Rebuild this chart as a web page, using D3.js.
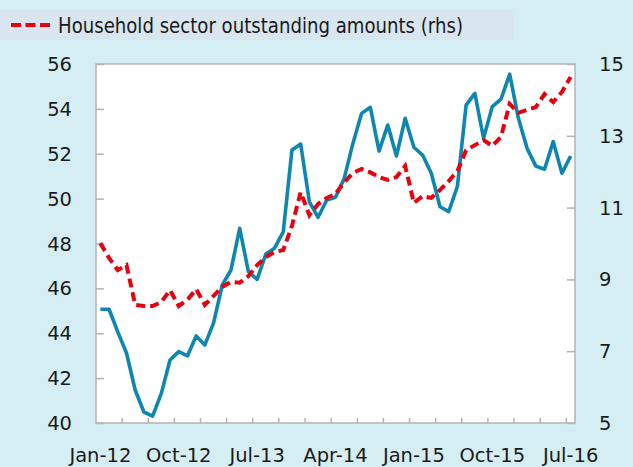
<!DOCTYPE html>
<html>
<head>
<meta charset="utf-8">
<script src="https://cdn.jsdelivr.net/npm/d3@7/dist/d3.min.js"></script>
<style>
  html, body { margin: 0; padding: 0; background: #d5eef3; }
  svg { display: block; }
  text { font-family: "DejaVu Sans", "Noto Sans", sans-serif; fill: #1a1a1a; }
</style>
</head>
<body>
<svg id="chart" width="633" height="467"></svg>
<script>
// Monthly observations, Jan-12 .. Jul-16
const months = (() => {
  const names = ["Jan","Feb","Mar","Apr","May","Jun","Jul","Aug","Sep","Oct","Nov","Dec"];
  const out = [];
  for (let y = 2012; y <= 2016; y++) {
    for (let m = 0; m < 12; m++) {
      if (y === 2016 && m > 6) break;
      out.push(names[m] + "-" + String(y).slice(2));
    }
  }
  return out;
})();

// Left-hand series (lhs)
const leftSeries = [
  45.07, 45.07, 44.06, 43.12, 41.47, 40.49, 40.31, 41.32, 42.81, 43.18, 42.99, 43.88,
  43.48, 44.46, 46.15, 46.82, 48.68, 46.74, 46.40, 47.53, 47.79, 48.52, 52.17, 52.43,
  49.86, 49.17, 49.94, 50.06, 50.90, 52.46, 53.80, 54.07, 52.12, 53.28, 51.90, 53.58,
  52.29, 51.94, 51.13, 49.64, 49.42, 50.55, 54.17, 54.69, 52.69, 54.10, 54.43, 55.55,
  53.58, 52.24, 51.45, 51.31, 52.54, 51.13, 51.90
];

// Household sector outstanding amounts (rhs)
const householdSeries = [
  10.01, 9.60, 9.26, 9.40, 8.29, 8.26, 8.26, 8.37, 8.70, 8.26, 8.43, 8.73,
  8.29, 8.54, 8.79, 8.93, 8.91, 9.09, 9.40, 9.62, 9.76, 9.82, 10.49, 11.43,
  10.79, 11.10, 11.27, 11.38, 11.71, 11.96, 12.08, 11.98, 11.85, 11.77, 11.85, 12.16,
  11.13, 11.32, 11.27, 11.49, 11.74, 12.02, 12.60, 12.74, 12.88, 12.72, 12.97, 13.89,
  13.64, 13.72, 13.80, 14.16, 13.94, 14.22, 14.64
];

const leftTicks = [40, 42, 44, 46, 48, 50, 52, 54, 56];
const rightTicks = [5, 7, 9, 11, 13, 15];
const xLabels = ["Jan-12", "Oct-12", "Jul-13", "Apr-14", "Jan-15", "Oct-15", "Jul-16"];

const svg = d3.select("#chart");
const plot = { left: 96, right: 575, top: 64, bottom: 423 };

const x = d3.scaleBand().domain(months).range([plot.left, plot.right]).padding(0);
const yL = d3.scaleLinear().domain([40, 56]).range([plot.bottom, plot.top]);
const yR = d3.scaleLinear().domain([5, 15]).range([plot.bottom, plot.top]);
const cx = m => x(m) + x.bandwidth() / 2;

const axisColor = "#b4b4b4";
const tickFont = 19.5;

// plot area
svg.append("rect")
  .attr("x", plot.left).attr("y", plot.top)
  .attr("width", plot.right - plot.left).attr("height", plot.bottom - plot.top)
  .attr("fill", "#ffffff")
  .attr("stroke", axisColor).attr("stroke-width", 1.5);

// left axis ticks (inward)
const gL = svg.append("g").attr("transform", `translate(${plot.left},0)`)
  .call(d3.axisRight(yL).tickValues(leftTicks).tickSize(8).tickFormat(""));
gL.select(".domain").remove();
gL.selectAll("line").attr("stroke", axisColor).attr("stroke-width", 1.5);
svg.append("g").selectAll("text").data(leftTicks).join("text")
  .attr("x", 72).attr("y", d => yL(d)).attr("dy", "0.36em")
  .attr("text-anchor", "end").attr("font-size", tickFont).text(d => d);

// right axis ticks (inward)
const gR = svg.append("g").attr("transform", `translate(${plot.right},0)`)
  .call(d3.axisLeft(yR).tickValues(rightTicks).tickSize(8).tickFormat(""));
gR.select(".domain").remove();
gR.selectAll("line").attr("stroke", axisColor).attr("stroke-width", 1.5);
svg.append("g").selectAll("text").data(rightTicks).join("text")
  .attr("x", 599).attr("y", d => yR(d)).attr("dy", "0.36em")
  .attr("text-anchor", "start").attr("font-size", tickFont).text(d => d);

// bottom axis: ticks between categories every quarter
const quarterEdges = months.filter((m, i) => i > 0 && i % 3 === 0);
svg.append("g").selectAll("line").data(quarterEdges).join("line")
  .attr("x1", d => x(d)).attr("x2", d => x(d))
  .attr("y1", plot.bottom).attr("y2", plot.bottom - 5)
  .attr("stroke", axisColor).attr("stroke-width", 1.5);
svg.append("g").selectAll("text").data(xLabels).join("text")
  .attr("x", d => cx(d)).attr("y", 462)
  .attr("text-anchor", "middle").attr("font-size", tickFont).text(d => d);

// lines
const lineL = d3.line().x((d, i) => cx(months[i])).y(d => yL(d));
const lineR = d3.line().x((d, i) => cx(months[i])).y(d => yR(d));

svg.append("path").datum(leftSeries)
  .attr("d", lineL).attr("fill", "none")
  .attr("stroke", "#0e86b2").attr("stroke-width", 3.6)
  .attr("stroke-linejoin", "round");

svg.append("path").datum(householdSeries)
  .attr("d", lineR).attr("fill", "none")
  .attr("stroke", "#e8000f").attr("stroke-width", 4)
  .attr("stroke-dasharray", "9,5");

// legend
svg.append("rect").attr("x", 0).attr("y", 9).attr("width", 513).attr("height", 31)
  .attr("fill", "#d9e6f0");
svg.append("line").attr("x1", 11).attr("x2", 50).attr("y1", 25).attr("y2", 25)
  .attr("stroke", "#e8000f").attr("stroke-width", 4).attr("stroke-dasharray", "10,4.5");
svg.append("text").attr("x", 58).attr("y", 33)
  .attr("font-size", 22)
  .attr("textLength", 405).attr("lengthAdjust", "spacingAndGlyphs")
  .text("Household sector outstanding amounts (rhs)");
</script>
</body>
</html>
